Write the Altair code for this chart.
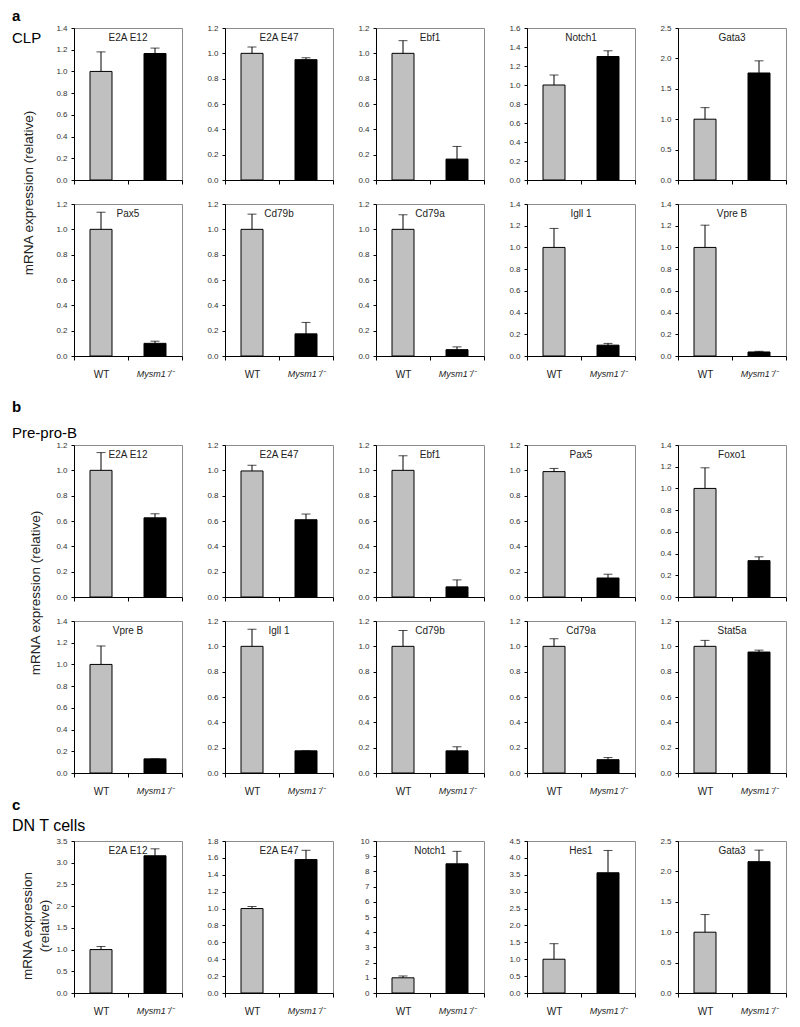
import altair as alt
import numpy as np
import pandas as pd

FONT = "Liberation Sans"
groups = ["WT", "Mysm1⁻/⁻"]
bar_colors = ["#c0c0c0", "#000000"]

section_letters = ["a", "b", "c"]
cell_types = ["CLP", "Pre-pro-B", "DN T cells"]
y_title = "mRNA expression (relative)"
y_title_two_lines = "mRNA expression\n(relative)"

# ---- Section a : CLP (two rows of five panels) ----
a_genes = ["E2A E12", "E2A E47", "Ebf1", "Notch1", "Gata3",
           "Pax5", "Cd79b", "Cd79a", "Igll 1", "Vpre B"]
a_wt = [1.00, 1.00, 1.00, 1.00, 1.00, 1.00, 1.00, 1.00, 1.00, 1.00]
a_wt_err = [0.18, 0.05, 0.10, 0.105, 0.19, 0.135, 0.12, 0.115, 0.175, 0.205]
a_ko = [1.165, 0.95, 0.165, 1.30, 1.76, 0.10, 0.175, 0.05, 0.10, 0.037]
a_ko_err = [0.05, 0.015, 0.10, 0.06, 0.20, 0.017, 0.09, 0.022, 0.016, 0.006]
a_ymax = [1.4, 1.2, 1.2, 1.6, 2.5, 1.2, 1.2, 1.2, 1.4, 1.4]
a_ystep = [0.2, 0.2, 0.2, 0.2, 0.5, 0.2, 0.2, 0.2, 0.2, 0.2]
a_fmt = [".1f"] * 10

# ---- Section b : Pre-pro-B ----
b_genes = ["E2A E12", "E2A E47", "Ebf1", "Pax5", "Foxo1",
           "Vpre B", "Igll 1", "Cd79b", "Cd79a", "Stat5a"]
b_wt = [1.00, 0.995, 1.00, 0.99, 1.00, 1.00, 1.00, 1.00, 1.00, 1.00]
b_wt_err = [0.14, 0.045, 0.115, 0.025, 0.19, 0.17, 0.135, 0.125, 0.06, 0.047]
b_ko = [0.625, 0.61, 0.08, 0.15, 0.335, 0.13, 0.175, 0.175, 0.105, 0.955]
b_ko_err = [0.032, 0.045, 0.055, 0.03, 0.035, 0.0, 0.0, 0.032, 0.017, 0.015]
b_ymax = [1.2, 1.2, 1.2, 1.2, 1.4, 1.4, 1.2, 1.2, 1.2, 1.2]
b_ystep = [0.2] * 10
b_fmt = [".1f"] * 10

# ---- Section c : DN T cells ----
c_genes = ["E2A E12", "E2A E47", "Notch1", "Hes1", "Gata3"]
c_wt = [1.00, 1.00, 1.00, 1.00, 1.00]
c_wt_err = [0.07, 0.024, 0.12, 0.46, 0.29]
c_ko = [3.16, 1.58, 8.5, 3.56, 2.16]
c_ko_err = [0.16, 0.11, 0.82, 0.66, 0.19]
c_ymax = [3.5, 1.8, 10, 4.5, 2.5]
c_ystep = [0.5, 0.2, 1, 0.5, 0.5]
c_fmt = [".1f", ".1f", "d", ".1f", ".1f"]

PW, PH = 108, 152
LEFT_W = 22


def ticks_for(ymax, step):
    n = int(round(ymax / step))
    return [round(i * step, 2) for i in range(n + 1)]


def panel(gene, wt, wt_err, ko, ko_err, ymax, step, fmt, show_labels):
    df = pd.DataFrame({
        "group": groups,
        "value": [wt, ko],
        "upper": [wt + wt_err, ko + ko_err],
    })
    xaxis = alt.Axis(
        title=None, labels=show_labels, labelAngle=0, tickBand="extent",
        ticks=True, tickSize=4, tickColor="black", domainColor="black",
        labelPadding=9, labelColor="#222",
        labelFontSize={"condition": {"test": "datum.value == 'WT'", "value": 10}, "value": 9},
        labelFontStyle={"condition": {"test": "datum.value == 'WT'", "value": "normal"}, "value": "italic"},
        zindex=1,
    )
    xenc = alt.X("group:N", sort=groups,
                 scale=alt.Scale(domain=groups, paddingInner=0, paddingOuter=0),
                 axis=xaxis)
    yscale = alt.Scale(domain=[0, ymax], nice=False, zero=True)
    yaxis = alt.Axis(
        title=None, values=ticks_for(ymax, step), format=fmt, grid=False,
        tickSize=3, tickColor="black", domainColor="black",
        labelFontSize=8, labelColor="#333", labelPadding=4, zindex=1,
    )
    base = alt.Chart(df)
    bars = base.mark_bar(size=22, stroke="black", strokeWidth=1).encode(
        x=xenc,
        y=alt.Y("value:Q", scale=yscale, axis=yaxis),
        color=alt.Color("group:N", scale=alt.Scale(domain=groups, range=bar_colors), legend=None),
    )
    err = base.mark_rule(color="black", strokeWidth=1).encode(
        x=xenc, y=alt.Y("value:Q", scale=yscale, axis=yaxis), y2="upper:Q"
    )
    cap = base.mark_tick(color="black", size=9, thickness=1, orient="horizontal").encode(
        x=xenc, y=alt.Y("upper:Q", scale=yscale, axis=yaxis)
    )
    label = alt.Chart(pd.DataFrame({"gene": [gene]})).mark_text(
        fontSize=10, color="#222", baseline="middle", align="center"
    ).encode(text="gene:N", x=alt.value(PW / 2), y=alt.value(10))
    return alt.layer(bars, err, cap, label).properties(width=PW, height=PH)


def txt(t, x, y, **kw):
    return alt.Chart(pd.DataFrame({"t": [t]})).mark_text(**kw).encode(
        text="t:N", x=alt.value(x), y=alt.value(y)
    )


def left_cell(height, layers):
    return alt.layer(*layers).properties(
        width=LEFT_W, height=height, view=alt.ViewBackground(stroke="transparent")
    )


def empty_cell(height):
    return left_cell(height, [txt("", 0, 0)])


def ytitle_layer(text, x, y, two_lines=False):
    kw = dict(angle=270, fontSize=13.5, color="#222", align="center", baseline="middle")
    if two_lines:
        kw["lineBreak"] = "\n"
        kw["lineHeight"] = 17
    return txt(text, x, y, **kw)


def row(genes, wt, wte, ko, koe, ymax, step, fmt, idx, show_labels):
    return [panel(genes[i], wt[i], wte[i], ko[i], koe[i], ymax[i], step[i], fmt[i], show_labels)
            for i in idx]


cells = []
# Row 0 : a (top row)
cells.append(left_cell(PH, [
    txt(section_letters[0], 3, -19, fontSize=15, fontWeight="bold", align="left", baseline="top"),
    txt(cell_types[0], 3, 10, fontSize=15, align="left", baseline="middle"),
    ytitle_layer(y_title, 20, 165),
]))
cells += row(a_genes, a_wt, a_wt_err, a_ko, a_ko_err, a_ymax, a_ystep, a_fmt, range(0, 5), False)
# Row 1 : a (bottom row)
cells.append(empty_cell(217))
cells += row(a_genes, a_wt, a_wt_err, a_ko, a_ko_err, a_ymax, a_ystep, a_fmt, range(5, 10), True)
# Row 2 : b (top row)
cells.append(left_cell(PH, [
    txt(section_letters[1], 3, -38, fontSize=15, fontWeight="bold", align="left", baseline="middle"),
    txt(cell_types[1], 3, -12, fontSize=15, align="left", baseline="middle"),
    ytitle_layer(y_title, 27, 148),
]))
cells += row(b_genes, b_wt, b_wt_err, b_ko, b_ko_err, b_ymax, b_ystep, b_fmt, range(0, 5), False)
# Row 3 : b (bottom row)
cells.append(empty_cell(196))
cells += row(b_genes, b_wt, b_wt_err, b_ko, b_ko_err, b_ymax, b_ystep, b_fmt, range(5, 10), True)
# Row 4 : c
cells.append(left_cell(PH, [
    txt(section_letters[2], 3, -36, fontSize=15, fontWeight="bold", align="left", baseline="middle"),
    txt(cell_types[2], 3, -15, fontSize=16, align="left", baseline="middle"),
    ytitle_layer(y_title_two_lines, 18.5, 85, two_lines=True),
]))
cells += row(c_genes, c_wt, c_wt_err, c_ko, c_ko_err, c_ymax, c_ystep, c_fmt, range(0, 5), True)

chart = alt.concat(
    *cells, columns=6, spacing={"row": 24, "column": 43}, bounds="flush", align="each"
).properties(padding=0).configure(font=FONT).configure_view(stroke="#8c8c8c")

chart.save("out.html", embed_options={"renderer": "svg", "actions": False})
